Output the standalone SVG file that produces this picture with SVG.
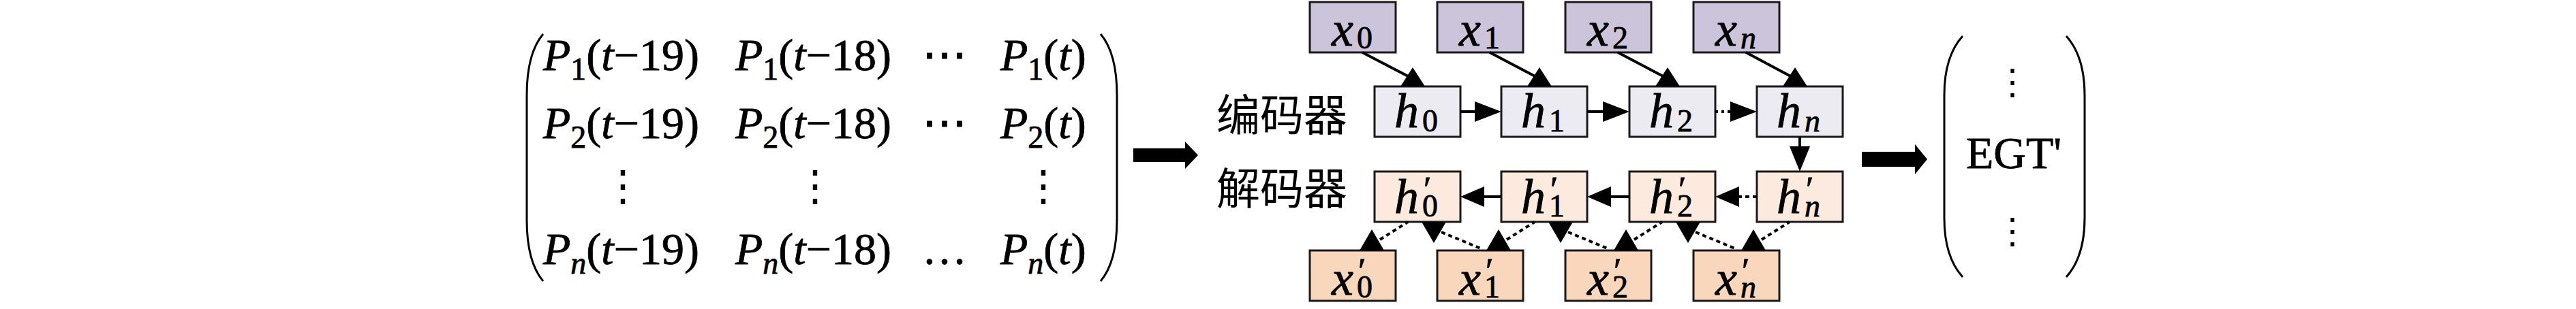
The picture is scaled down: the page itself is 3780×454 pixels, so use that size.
<svg xmlns="http://www.w3.org/2000/svg" width="3780" height="454" viewBox="0 0 3780 454">
<style>
.m{font-family:'Liberation Serif','Times New Roman',serif;font-size:66px;fill:#000;stroke:#000;stroke-width:0.8}
.i{font-style:italic}
.s{font-size:46px}
.v{font-family:'Liberation Serif','Times New Roman',serif;font-size:72px;fill:#000;stroke:#000;stroke-width:0.8}
.vs{font-size:46px}
.pr{font-size:52px}
.dots{font-family:'DejaVu Serif',serif;font-size:62px;text-anchor:middle}
.cjk{font-family:'Noto Sans CJK SC',sans-serif;font-size:64px;fill:#000}
.bx{stroke:#1a1a1a;stroke-width:3}
.xin{fill:#CCC4DA}
.hen{fill:#EDEBF2}
.hde{fill:#FCEADF}
.xout{fill:#F8D7BD}
.ln{stroke:#000;stroke-width:4;fill:none}
.dash{stroke-dasharray:6 5}
.ah{fill:#000}
.par{fill:none;stroke:#000;stroke-width:3}
.big{fill:#000}
</style>

<g id="input-matrix">
<path class="par" d="M797,50 C780,70 773,100 773,140 L773,323 C773,363 780,393 797,413"/>
<path class="par" d="M1615,50 C1632,70 1639,100 1639,140 L1639,323 C1639,363 1632,393 1615,413"/>
<text class="m" x="797" y="103"><tspan class="i">P</tspan><tspan class="s" dy="14">1</tspan><tspan dy="-14">(</tspan><tspan class="i">t</tspan>−19)</text>
<text class="m" x="1079" y="103"><tspan class="i">P</tspan><tspan class="s" dy="14">1</tspan><tspan dy="-14">(</tspan><tspan class="i">t</tspan>−18)</text>
<text class="m" x="1386" y="103" text-anchor="middle">⋯</text>
<text class="m" x="1468" y="103"><tspan class="i">P</tspan><tspan class="s" dy="14">1</tspan><tspan dy="-14">(</tspan><tspan class="i">t</tspan>)</text>
<text class="m" x="797" y="203"><tspan class="i">P</tspan><tspan class="s" dy="14">2</tspan><tspan dy="-14">(</tspan><tspan class="i">t</tspan>−19)</text>
<text class="m" x="1079" y="203"><tspan class="i">P</tspan><tspan class="s" dy="14">2</tspan><tspan dy="-14">(</tspan><tspan class="i">t</tspan>−18)</text>
<text class="m" x="1386" y="203" text-anchor="middle">⋯</text>
<text class="m" x="1468" y="203"><tspan class="i">P</tspan><tspan class="s" dy="14">2</tspan><tspan dy="-14">(</tspan><tspan class="i">t</tspan>)</text>
<text class="dots" x="914" y="294">⋮</text>
<text class="dots" x="1196" y="294">⋮</text>
<text class="dots" x="1531" y="294">⋮</text>
<text class="m" x="797" y="388"><tspan class="i">P</tspan><tspan class="s i" dy="14">n</tspan><tspan dy="-14">(</tspan><tspan class="i">t</tspan>−19)</text>
<text class="m" x="1079" y="388"><tspan class="i">P</tspan><tspan class="s i" dy="14">n</tspan><tspan dy="-14">(</tspan><tspan class="i">t</tspan>−18)</text>
<text class="m" x="1386" y="388" text-anchor="middle">…</text>
<text class="m" x="1468" y="388"><tspan class="i">P</tspan><tspan class="s i" dy="14">n</tspan><tspan dy="-14">(</tspan><tspan class="i">t</tspan>)</text>
</g>

<g id="arrow-in">
<polygon class="big" points="1663,218 1739,218 1739,208 1758,228 1739,248 1739,238 1663,238"/>
</g>

<g id="label-encoder"><text class="cjk" x="1785" y="192">编码器</text></g>
<g id="label-decoder"><text class="cjk" x="1785" y="300">解码器</text></g>

<g id="x0"><rect class="bx xin" x="1922" y="3" width="126" height="74"/><text class="v" y="67"><tspan class="i" x="1954">x</tspan><tspan class="vs" x="1991" dy="4">0</tspan></text></g>
<g id="x1"><rect class="bx xin" x="2109" y="3" width="126" height="74"/><text class="v" y="67"><tspan class="i" x="2141">x</tspan><tspan class="vs" x="2178" dy="4">1</tspan></text></g>
<g id="x2"><rect class="bx xin" x="2297" y="3" width="126" height="74"/><text class="v" y="67"><tspan class="i" x="2329">x</tspan><tspan class="vs" x="2366" dy="4">2</tspan></text></g>
<g id="xn"><rect class="bx xin" x="2485" y="3" width="126" height="74"/><text class="v" y="67"><tspan class="i" x="2517">x</tspan><tspan class="vs i" x="2554" dy="4">n</tspan></text></g>

<g id="h0"><rect class="bx hen" x="2017" y="127" width="126" height="74"/><text class="v" y="187"><tspan class="i" x="2046">h</tspan><tspan class="vs" x="2087" dy="6">0</tspan></text></g>
<g id="h1"><rect class="bx hen" x="2203" y="127" width="126" height="74"/><text class="v" y="187"><tspan class="i" x="2232">h</tspan><tspan class="vs" x="2273" dy="6">1</tspan></text></g>
<g id="h2"><rect class="bx hen" x="2391" y="127" width="126" height="74"/><text class="v" y="187"><tspan class="i" x="2420">h</tspan><tspan class="vs" x="2461" dy="6">2</tspan></text></g>
<g id="hn"><rect class="bx hen" x="2578" y="127" width="126" height="74"/><text class="v" y="187"><tspan class="i" x="2607">h</tspan><tspan class="vs i" x="2648" dy="6">n</tspan></text></g>

<g id="h0p"><rect class="bx hde" x="2017" y="252" width="126" height="74"/><text class="v" y="313"><tspan class="i" x="2046">h</tspan><tspan class="pr" x="2089" dy="-17">′</tspan><tspan class="vs" x="2087" dy="22">0</tspan></text></g>
<g id="h1p"><rect class="bx hde" x="2203" y="252" width="126" height="74"/><text class="v" y="313"><tspan class="i" x="2232">h</tspan><tspan class="pr" x="2275" dy="-17">′</tspan><tspan class="vs" x="2273" dy="22">1</tspan></text></g>
<g id="h2p"><rect class="bx hde" x="2391" y="252" width="126" height="74"/><text class="v" y="313"><tspan class="i" x="2420">h</tspan><tspan class="pr" x="2463" dy="-17">′</tspan><tspan class="vs" x="2461" dy="22">2</tspan></text></g>
<g id="hnp"><rect class="bx hde" x="2578" y="252" width="126" height="74"/><text class="v" y="313"><tspan class="i" x="2607">h</tspan><tspan class="pr" x="2650" dy="-17">′</tspan><tspan class="vs i" x="2648" dy="22">n</tspan></text></g>

<g id="x0p"><rect class="bx xout" x="1922" y="368" width="126" height="74"/><text class="v" y="433"><tspan class="i" x="1954">x</tspan><tspan class="pr" x="1993" dy="-17">′</tspan><tspan class="vs" x="1991" dy="21">0</tspan></text></g>
<g id="x1p"><rect class="bx xout" x="2109" y="368" width="126" height="74"/><text class="v" y="433"><tspan class="i" x="2141">x</tspan><tspan class="pr" x="2180" dy="-17">′</tspan><tspan class="vs" x="2178" dy="21">1</tspan></text></g>
<g id="x2p"><rect class="bx xout" x="2297" y="368" width="126" height="74"/><text class="v" y="433"><tspan class="i" x="2329">x</tspan><tspan class="pr" x="2368" dy="-17">′</tspan><tspan class="vs" x="2366" dy="21">2</tspan></text></g>
<g id="xnp"><rect class="bx xout" x="2485" y="368" width="126" height="74"/><text class="v" y="433"><tspan class="i" x="2517">x</tspan><tspan class="pr" x="2556" dy="-17">′</tspan><tspan class="vs i" x="2554" dy="21">n</tspan></text></g>

<g id="connectors">
<line class="ln" x1="1999" y1="77" x2="2072" y2="115"/>
<polygon class="ah" points="2073,99 2055,127 2091,127"/>
<line class="ln" x1="2186" y1="77" x2="2258" y2="115"/>
<polygon class="ah" points="2259,99 2241,127 2277,127"/>
<line class="ln" x1="2374" y1="77" x2="2446" y2="115"/>
<polygon class="ah" points="2447,99 2429,127 2465,127"/>
<line class="ln" x1="2562" y1="77" x2="2633" y2="115"/>
<polygon class="ah" points="2634,99 2616,127 2652,127"/>
<line class="ln" x1="2143" y1="164" x2="2166" y2="164"/>
<polygon class="ah" points="2164,149 2203,164 2164,179"/>
<line class="ln" x1="2329" y1="164" x2="2354" y2="164"/>
<polygon class="ah" points="2352,149 2391,164 2352,179"/>
<line class="ln" x1="2517" y1="164" x2="2539" y2="164" stroke-dasharray="4 5"/>
<polygon class="ah" points="2539,149 2578,164 2539,179"/>
<line class="ln" x1="2641" y1="201" x2="2641" y2="217"/>
<polygon class="ah" points="2626,215 2656,215 2641,252"/>
<line class="ln" x1="2176" y1="289" x2="2203" y2="289"/>
<polygon class="ah" points="2178,274 2143,289 2178,304"/>
<line class="ln" x1="2362" y1="289" x2="2391" y2="289"/>
<polygon class="ah" points="2364,274 2329,289 2364,304"/>
<line class="ln dash" x1="2550" y1="289" x2="2578" y2="289"/>
<polygon class="ah" points="2552,274 2517,289 2552,304"/>
<polygon class="ah" points="2013,337 1995,368 2031,368"/>
<line class="ln dash" x1="2025" y1="352" x2="2066" y2="326"/>
<polygon class="ah" points="2199,337 2181,368 2217,368"/>
<line class="ln dash" x1="2211" y1="352" x2="2252" y2="326"/>
<polygon class="ah" points="2386,337 2368,368 2404,368"/>
<line class="ln dash" x1="2398" y1="352" x2="2439" y2="326"/>
<polygon class="ah" points="2573,337 2555,368 2591,368"/>
<line class="ln dash" x1="2585" y1="352" x2="2626" y2="326"/>
<polygon class="ah" points="2086,326 2122,326 2104,357"/>
<line class="ln dash" x1="2115" y1="341" x2="2175" y2="366"/>
<polygon class="ah" points="2272,326 2308,326 2290,357"/>
<line class="ln dash" x1="2301" y1="341" x2="2361" y2="366"/>
<polygon class="ah" points="2459,326 2495,326 2477,357"/>
<line class="ln dash" x1="2488" y1="341" x2="2548" y2="366"/>
</g>

<g id="arrow-out">
<polygon class="big" points="2732,223 2810,223 2810,212 2828,234 2810,256 2810,245 2732,245"/>
</g>

<g id="output-vector">
<path class="par" d="M2880,53 C2860,75 2853,105 2853,140 L2853,320 C2853,355 2860,385 2880,407"/>
<path class="par" d="M3032,53 C3052,75 3059,105 3059,140 L3059,320 C3059,355 3052,385 3032,407"/>
<text class="dots" x="2953" y="138" style="font-size:52px">⋮</text>
<text class="m" x="2885" y="247" style="font-size:66px">EGT'</text>
<text class="dots" x="2953" y="357" style="font-size:52px">⋮</text>
</g>
</svg>
